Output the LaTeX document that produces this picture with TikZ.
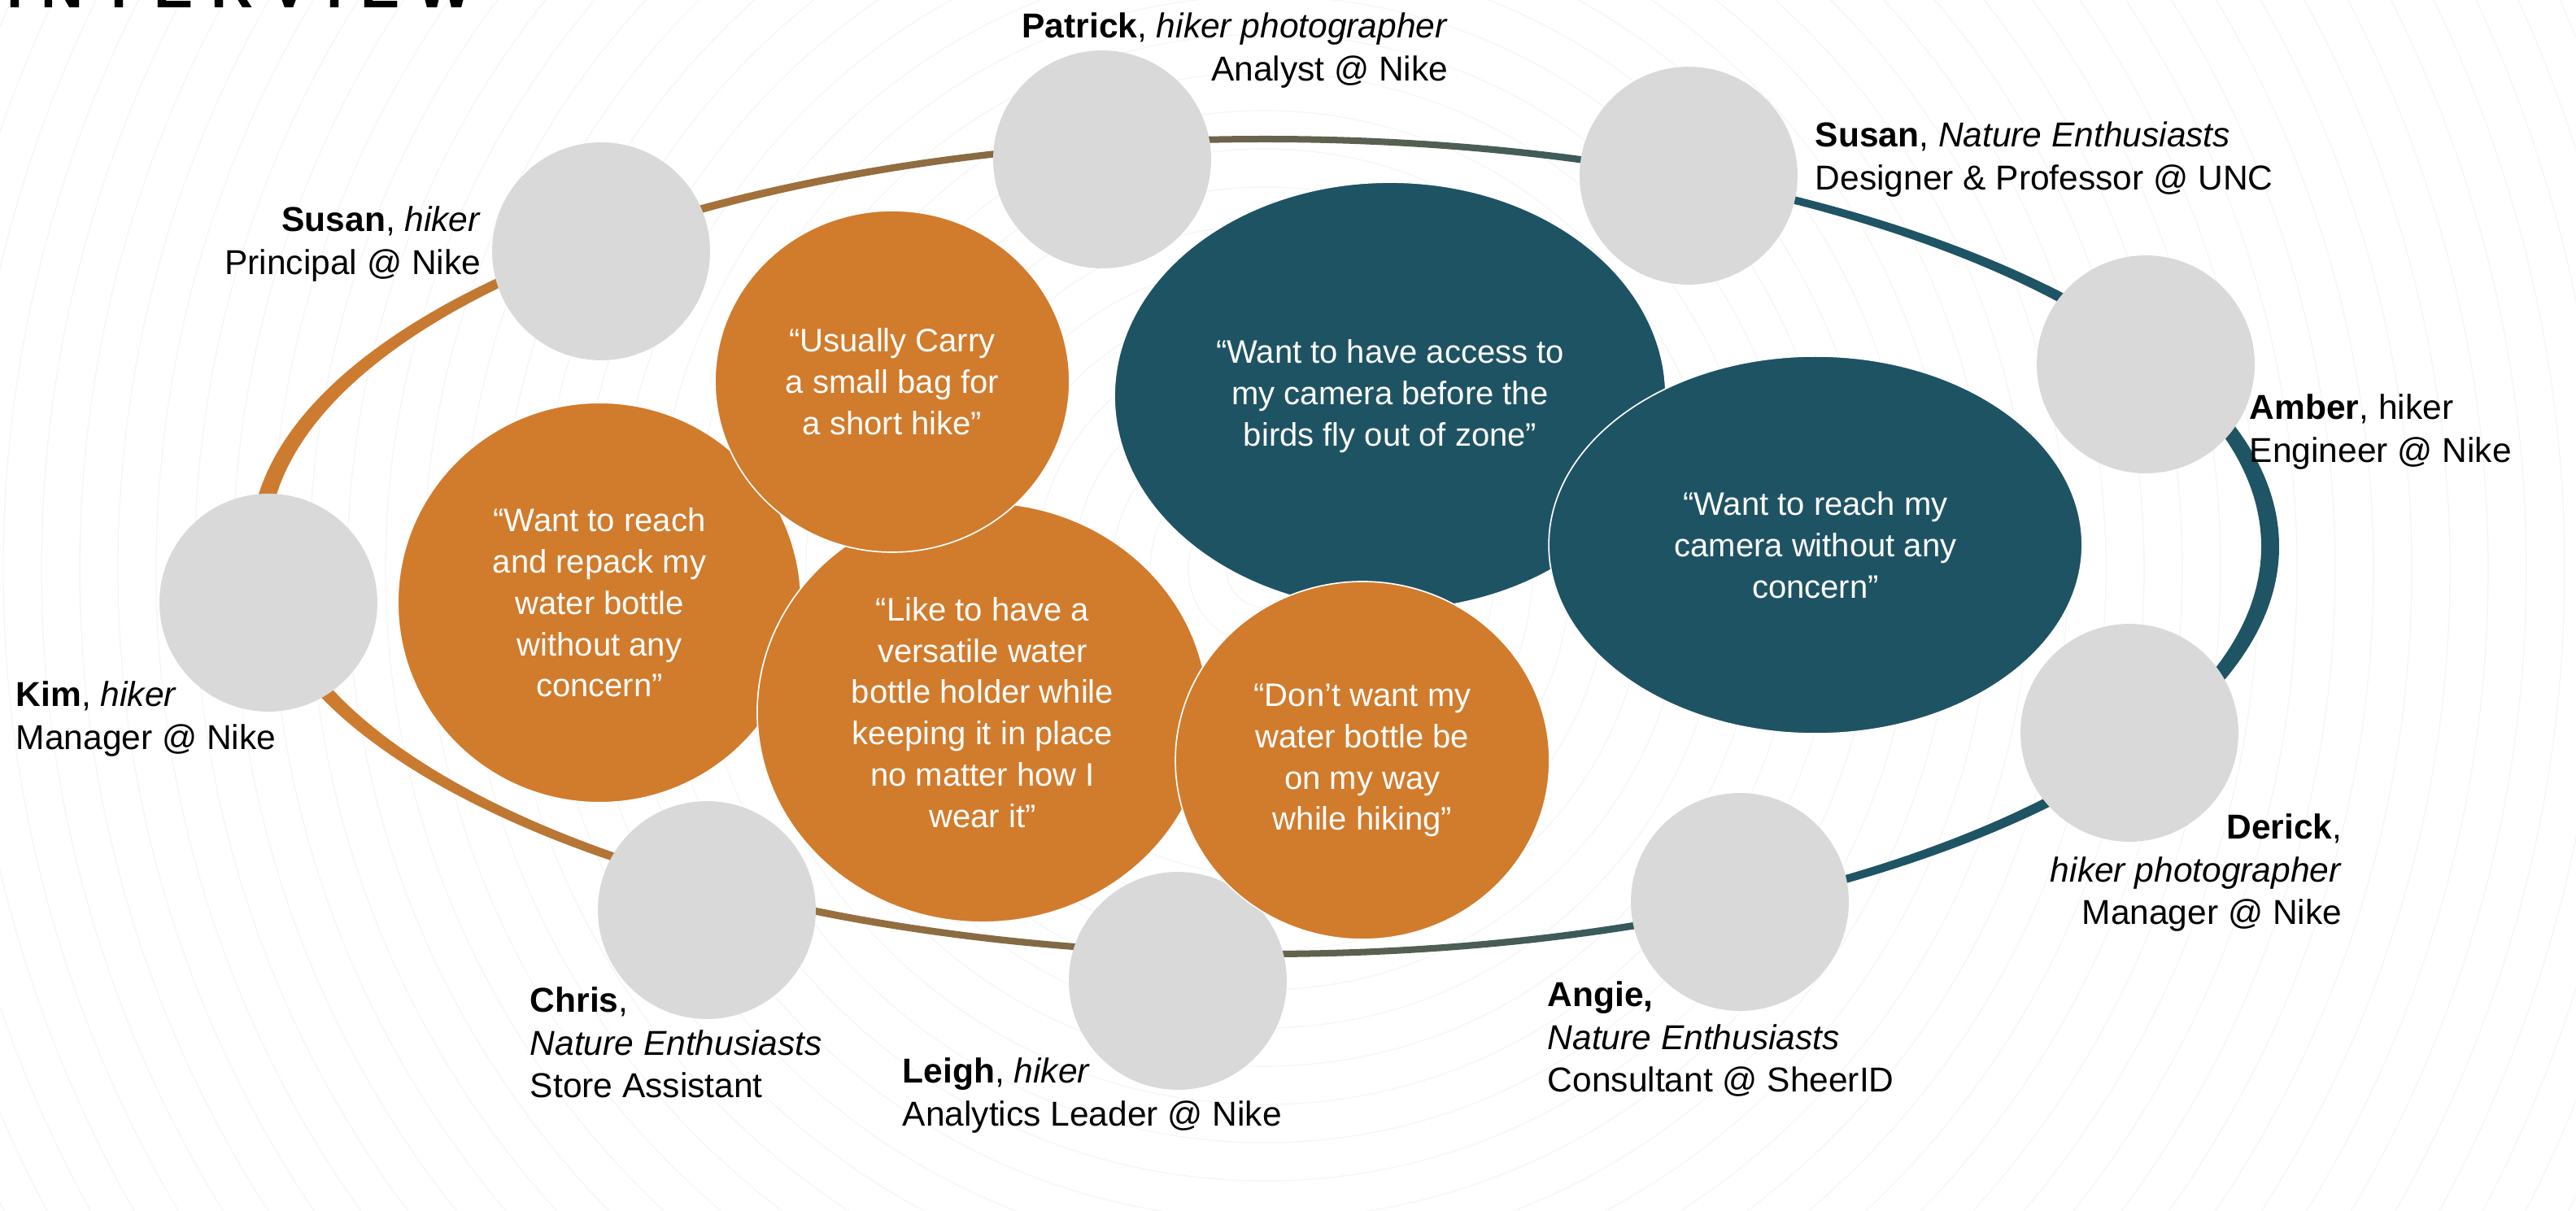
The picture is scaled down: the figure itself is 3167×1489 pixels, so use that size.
\documentclass[tikz,border=0pt]{standalone}
\usepackage{fontspec}
\setmainfont{Liberation Sans}
\newfontfamily\titlefont[LetterSpace=30]{Liberation Sans}
\usetikzlibrary{shapes.geometric}

\definecolor{ochre}{RGB}{209,123,44}
\definecolor{petrol}{RGB}{30,83,100}
\definecolor{avatargray}{RGB}{217,217,217}
\definecolor{ringL}{RGB}{205,123,47}
\definecolor{ringM}{RGB}{104,99,76}
\definecolor{ringR}{RGB}{30,84,100}
\pgfdeclarehorizontalshading{ringshade}{100bp}{color(0bp)=(ringL); color(28bp)=(ringL); color(50bp)=(ringM); color(63bp)=(ringR); color(100bp)=(ringR)}

\begin{document}
\begin{tikzpicture}[x=0.24pt,y=-0.24pt,
	bgline/.style={draw=black!4, line width=0.3pt},
	avatar/.style={circle, fill=avatargray, minimum size=64.3pt, inner sep=0pt},
	bubble/.style={ellipse, draw=white, line width=0.4pt, inner sep=0pt, text=white, align=center, font=\fontsize{9.6}{12.2}\selectfont},
	warm/.style={bubble, fill=ochre},
	cool/.style={bubble, fill=petrol},
	who/.style={inner sep=0pt, font=\fontsize{10.2}{12.6}\selectfont}]
	
	\useasboundingbox (0,0) rectangle (3167,1489);
	\clip (0,0) rectangle (3167,1489);
	
	%Background rings
	\foreach \r in {47,94,...,1900}
		\draw[bgline] (1555,700) circle (\r);
	
	% Title (cut at the top)
	\node[anchor=base west, inner sep=0pt, font=\titlefont\bfseries\fontsize{17.3}{20}\selectfont] (title) at (8,9.5) {INTERVIEW};
	
	%Shape: Ring (thicker at the ends)
	\shade[shading=ringshade, even odd rule] (1555,672) ellipse [x radius=1247, y radius=505] (1555,672) ellipse [x radius=1225, y radius=497];
	
	%Shape: Avatars
	\node[avatar] (susanA) at (739,309) {};
	\node[avatar] (patrick) at (1355,196) {};
	\node[avatar] (susanB) at (2076,216) {};
	\node[avatar] (amber) at (2638,448) {};
	\node[avatar] (derick) at (2618,901) {};
	\node[avatar] (angie) at (2139,1109) {};
	\node[avatar] (leigh) at (1448,1206) {};
	\node[avatar] (chris) at (869,1119) {};
	\node[avatar] (kim) at (330,741) {};
	
	%Shape: Quote bubbles
	\node[warm, minimum width=119pt, minimum height=118pt] (qRepack) at (737,741) {“Want to reach\\and repack my\\water bottle\\without any\\concern”};
	\node[warm, minimum width=133pt, minimum height=123.8pt] (qHolder) at (1208,876) {“Like to have a\\versatile water\\bottle holder while\\keeping it in place\\no matter how I\\wear it”};
	\node[warm, minimum width=104.6pt, minimum height=100.8pt] (qBag) at (1097,469) {“Usually Carry\\a small bag for\\a short hike”};
	\node[cool, minimum width=162.7pt, minimum height=126.2pt] (qAccess) at (1709,487) {“Want to have access to\\my camera before the\\birds fly out of zone”};
	\node[warm, minimum width=110.4pt, minimum height=105.6pt] (qWay) at (1675,935) {“Don’t want my\\water bottle be\\on my way\\while hiking”};
	\node[cool, minimum width=157.4pt, minimum height=111.4pt] (qReach) at (2232,670) {“Want to reach my\\camera without any\\concern”};
	
	% Text Node
	\node[who, anchor=north east, align=right] (lblSusanA) at (592,253) {\textbf{Susan}, \textit{hiker}\\Principal @ Nike};
	% Text Node
	\node[who, anchor=north east, align=right] (lblPatrick) at (1781,15) {\textbf{Patrick}, \textit{hiker photographer}\\Analyst @ Nike};
	% Text Node
	\node[who, anchor=north west, align=left] (lblSusanB) at (2231,149) {\textbf{Susan}, \textit{Nature Enthusiasts}\\Designer \& Professor @ UNC};
	% Text Node
	\node[who, anchor=north west, align=left] (lblAmber) at (2765,484) {\textbf{Amber}, hiker\\Engineer @ Nike};
	% Text Node
	\node[who, anchor=north east, align=right] (lblDerick) at (2880,1000) {\textbf{Derick},\\\textit{hiker photographer}\\Manager @ Nike};
	% Text Node
	\node[who, anchor=north west, align=left] (lblAngie) at (1902,1206) {\textbf{Angie,}\\\textit{Nature Enthusiasts}\\Consultant @ SheerID};
	% Text Node
	\node[who, anchor=north west, align=left] (lblLeigh) at (1109,1300) {\textbf{Leigh}, \textit{hiker}\\Analytics Leader @ Nike};
	% Text Node
	\node[who, anchor=north west, align=left] (lblChris) at (651,1213) {\textbf{Chris},\\\textit{Nature Enthusiasts}\\Store Assistant};
	% Text Node
	\node[who, anchor=north west, align=left] (lblKim) at (19,837) {\textbf{Kim}, \textit{hiker}\\Manager @ Nike};
	
\end{tikzpicture}
\end{document}
